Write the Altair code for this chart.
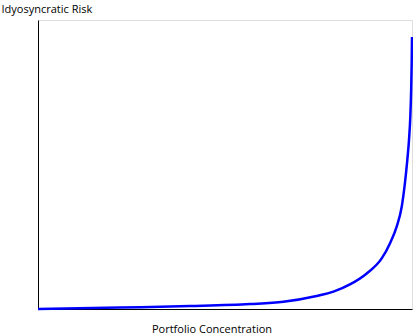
import altair as alt
import pandas as pd

concentration = [0, 21.9, 40.6, 56.7, 65.6, 74.5, 79.0, 83.4, 87.9, 91.9, 94.1, 95.9, 97.25, 98.1, 98.75, 99.2, 99.55, 99.78, 99.92, 100]
risk = [0, 0.5, 1.0, 1.7, 2.5, 4.5, 6.0, 8.5, 12.3, 17.5, 22.7, 28.5, 35.4, 43.5, 51.6, 58.5, 66.5, 76.0, 85.5, 94.1]

df = pd.DataFrame({"x": concentration, "y": risk})

FONT = "Open Sans"

chart = alt.Chart(df).mark_line(
    color="#0000FF", strokeWidth=2.5, interpolate="monotone"
).encode(
    x=alt.X("x:Q", scale=alt.Scale(domain=[0, 100], nice=False, zero=False),
            axis=alt.Axis(title="Portfolio Concentration", grid=False, ticks=False, labels=False,
                          domainColor="black", domainWidth=1,
                          titleFont=FONT, titleFontSize=11, titleFontWeight="normal", titleColor="black",
                          titleX=173.5, titleY=23, titleAlign="center", titleBaseline="alphabetic")),
    y=alt.Y("y:Q", scale=alt.Scale(domain=[0, 100], nice=False, zero=False),
            axis=alt.Axis(title="Idyosyncratic Risk", grid=False, ticks=False, labels=False,
                          domainColor="black", domainWidth=1,
                          titleFont=FONT, titleFontSize=11, titleFontWeight="normal", titleColor="black",
                          titleAngle=0, titleX=-37, titleY=-8, titleAlign="left", titleBaseline="alphabetic")),
).properties(
    width=374, height=289,
    autosize=alt.AutoSizeParams(type="none"),
    padding={"left": 38, "top": 20, "right": 1, "bottom": 27},
).configure_view(stroke=None).configure(background="white")

chart.save("out.html", embed_options={"renderer": "svg", "actions": False})
